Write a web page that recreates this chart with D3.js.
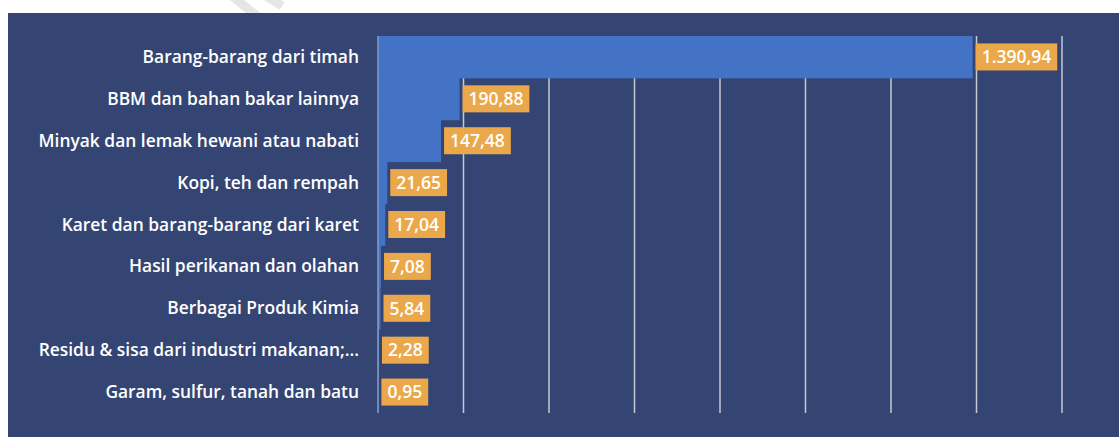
<!DOCTYPE html>
<html lang="id">
<head>
<meta charset="UTF-8">
<title>Ekspor</title>
<script src="https://cdn.jsdelivr.net/npm/d3@7"></script>
<style>
    body { margin: 0; background: #fff; }
    svg { display: block; }
</style>
</head>
<body>
<div id="chart"></div>
<script>
    var categories = [
        "Barang-barang dari timah",
        "BBM dan bahan bakar lainnya",
        "Minyak dan lemak hewani atau nabati",
        "Kopi, teh dan rempah",
        "Karet dan barang-barang dari karet",
        "Hasil perikanan dan olahan",
        "Berbagai Produk Kimia",
        "Residu & sisa dari industri makanan;...",
        "Garam, sulfur, tanah dan batu"
    ];
    var values = [1390.94, 190.88, 147.48, 21.65, 17.04, 7.08, 5.84, 2.28, 0.95];
    var labels = ["1.390,94", "190,88", "147,48", "21,65", "17,04", "7,08", "5,84", "2,28", "0,95"];
    var gridTicks = [0, 200, 400, 600, 800, 1000, 1200, 1400, 1600];

    var width = 1119, height = 437;

    var svg = d3.select("#chart").append("svg")
        .attr("width", width)
        .attr("height", height);

    // faint watermark stroke
    svg.append("path")
        .attr("d", "M232,-4 L262,20 M266,-4 L282,6")
        .attr("stroke", "#e6e6e6")
        .attr("stroke-width", 9)
        .attr("fill", "none");

    // panel
    svg.append("rect")
        .attr("x", 8).attr("y", 13)
        .attr("width", width - 8).attr("height", height - 13)
        .attr("fill", "#344573");

    var x = d3.scaleLinear().domain([0, 1600]).range([378, 1062]);
    var y = d3.scaleBand().domain(categories).range([36, 413]).padding(0);

    // grid lines
    svg.append("g").selectAll("line")
        .data(gridTicks.slice(1))
        .enter().append("line")
        .attr("x1", function (d) { return x(d); })
        .attr("x2", function (d) { return x(d); })
        .attr("y1", 36).attr("y2", 413)
        .attr("stroke", "#c6c9d2")
        .attr("stroke-width", 1.5);

    // bars
    svg.append("g").selectAll("rect")
        .data(values)
        .enter().append("rect")
        .attr("x", x(0))
        .attr("y", function (d, i) { return y(categories[i]); })
        .attr("width", function (d) { return x(d) - x(0); })
        .attr("height", y.bandwidth() + 0.5)
        .attr("fill", "#4472c4");

    // axis line
    svg.append("line")
        .attr("x1", x(0)).attr("x2", x(0))
        .attr("y1", 36).attr("y2", 413)
        .attr("stroke", "#8a9cc4")
        .attr("stroke-width", 1.5);

    // category labels
    svg.append("g").selectAll("text")
        .data(categories)
        .enter().append("text")
        .attr("x", 359)
        .attr("y", function (d) { return y(d) + y.bandwidth() / 2; })
        .attr("dy", "0.35em")
        .attr("text-anchor", "end")
        .attr("font-family", "'Open Sans', sans-serif")
        .attr("font-weight", 600)
        .attr("font-size", 17.4)
        .attr("fill", "#ffffff")
        .text(function (d) { return d; });

    // value labels with boxes
    var lab = svg.append("g").selectAll("g")
        .data(values)
        .enter().append("g")
        .attr("transform", function (d, i) {
            return "translate(" + (x(d) + 3) + "," + (y(categories[i]) + y.bandwidth() / 2) + ")";
        });

    var txt = lab.append("text")
        .attr("x", 6)
        .attr("dy", "0.36em")
        .attr("font-family", "'Open Sans', sans-serif")
        .attr("font-weight", 600)
        .attr("font-size", 17.5)
        .attr("fill", "#ffffff")
        .text(function (d, i) { return labels[i]; });

    txt.each(function () {
        var w = this.getComputedTextLength();
        d3.select(this.parentNode).insert("rect", "text")
            .attr("x", 0).attr("y", -13.5)
            .attr("width", w + 12).attr("height", 27)
            .attr("fill", "#eba84a");
    });
</script>
</body>
</html>
